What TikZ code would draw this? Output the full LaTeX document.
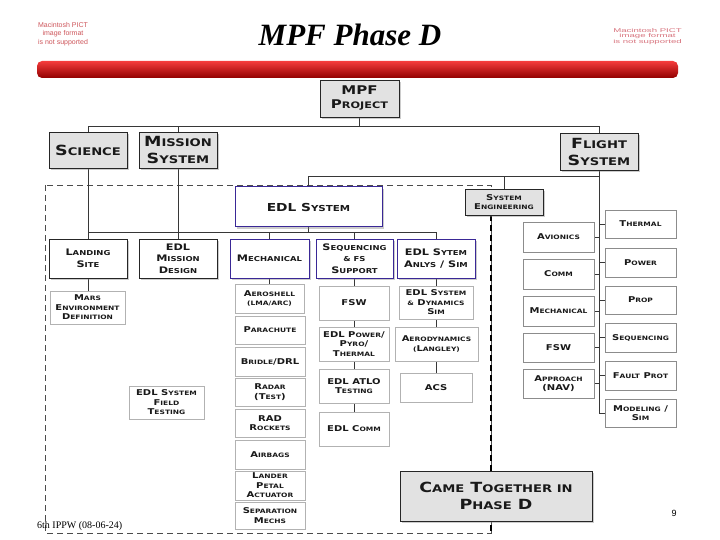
\documentclass[tikz,border=0pt]{standalone}
\usepackage{fontspec}
\setmainfont{Liberation Serif}
\newfontfamily\cpfont[FakeStretch=1.25]{DejaVu Sans}
\newfontfamily\arialfont{Liberation Sans}
\usetikzlibrary{shadows,backgrounds}
\newcommand\s[1]{\scalebox{0.75}{#1}}
\definecolor{boxgray}{RGB}{226,226,226}
\definecolor{edlpurple}{RGB}{58,40,150}
\definecolor{barred}{RGB}{228,0,0}
\definecolor{bartop}{RGB}{245,60,60}
\definecolor{bardark}{RGB}{145,0,0}
\definecolor{logored}{RGB}{205,85,90}
\definecolor{logopink}{RGB}{215,115,125}
\definecolor{linegray}{RGB}{55,55,55}
\newcommand\bx[7]{\node[#6, minimum width={(#4-#2)*1pt}, minimum height={(#5-#3)*1pt}] (#1) at ({(#2+#4)/2},{(#3+#5)/2}) {#7};}
\tikzset{
  base/.style={inner sep=1pt, outer sep=0pt, align=center, text=black!90},
  shd/.style={drop shadow={shadow xshift=2pt, shadow yshift=-2pt, opacity=0.4}},
  hdr/.style={base, fill=boxgray, draw=black!85, line width=0.9pt, shd},
  purp/.style={base, fill=white, draw=edlpurple, line width=1pt, shd},
  dark/.style={base, fill=white, draw=black!85, line width=0.8pt, shd},
  lite/.style={base, fill=white, draw=black!30, line width=0.5pt},
  rt/.style={base, fill=white, draw=black!45, line width=0.6pt},
  conn/.style={draw=linegray, line width=0.7pt},
  fA/.style={font=\cpfont\bfseries\fontsize{14}{17}\selectfont},
  fM/.style={font=\cpfont\bfseries\fontsize{12}{14}\selectfont},
  fE/.style={font=\cpfont\bfseries\fontsize{11}{13}\selectfont},
  fB/.style={font=\cpfont\bfseries\fontsize{9}{11.5}\selectfont},
  fS/.style={font=\cpfont\bfseries\fontsize{8.5}{10.5}\selectfont},
  fC/.style={font=\cpfont\bfseries\fontsize{8}{9.5}\selectfont},
}
\begin{document}
\begin{tikzpicture}[x=1pt,y=-1pt]
\useasboundingbox (0,0) rectangle (720,540);
% logos and title
\node[font=\arialfont\fontsize{7}{8.5}\selectfont, text=logored, align=center] (logoL) at (63,34) {Macintosh PICT\\image format\\is not supported};
\node[font=\arialfont\fontsize{5.5}{5.5}\selectfont, text=logopink, align=center] (logoR) at (647.5,36.5) {\scalebox{1.75}[1]{Macintosh PICT}\\\scalebox{1.75}[1]{image format}\\\scalebox{1.75}[1]{is not supported}};
\node[font=\fontsize{31}{31}\selectfont\bfseries\itshape] (title) at (350,35) {MPF Phase D};
\coordinate (barTL) at (37,61);
\coordinate (barBR) at (678,78);
\shade[top color=bartop, middle color=barred, bottom color=bardark, rounded corners=5pt] (barTL) rectangle (barBR);
% top level
\bx{mpf}{320}{80}{399}{117}{hdr,fM}{MPF\\P\s{ROJECT}}
\bx{sci}{49}{132}{127}{168}{hdr,fA}{S\s{CIENCE}}
\bx{mis}{139}{132}{217}{168}{hdr,fA}{M\s{ISSION}\\S\s{YSTEM}}
\bx{fli}{560}{133}{638}{170}{hdr,fA}{F\s{LIGHT}\\S\s{YSTEM}}
\bx{edl}{235}{187}{382}{227}{purp,fE}{EDL S\s{YSTEM}}
\bx{se}{465}{189}{543}{215}{hdr,fC}{S\s{YSTEM}\\E\s{NGINEERING}}
% second level
\bx{land}{49}{239}{127}{278}{dark,fB}{L\s{ANDING}\\S\s{ITE}}
\bx{emd}{139}{239}{217}{278}{dark,fB}{EDL\\M\s{ISSION}\\D\s{ESIGN}}
\bx{mech}{230}{239}{309}{278}{purp,fB}{M\s{ECHANICAL}}
\bx{seq}{316}{239}{393}{278}{purp,fB}{S\s{EQUENCING}\\\s{\& FS}\\S\s{UPPORT}}
\bx{anl}{397}{239}{475}{278}{purp,fB}{EDL S\s{YTEM}\\A\s{NLYS} / S\s{IM}}
% third level
\bx{mars}{50}{291}{125}{324}{lite,fC}{M\s{ARS}\\E\s{NVIRONMENT}\\D\s{EFINITION}}
\bx{field}{129}{386}{204}{419}{lite,fC}{EDL S\s{YSTEM}\\F\s{IELD}\\T\s{ESTING}}
\bx{aero}{235}{284}{304}{313}{lite,fC}{A\s{EROSHELL}\\\s{(LMA/ARC)}}
\bx{para}{235}{316}{305}{344}{lite,fC}{P\s{ARACHUTE}}
\bx{brid}{235}{347}{305}{376}{lite,fC}{B\s{RIDLE}/DRL}
\bx{radar}{235}{378}{305}{406}{lite,fC}{R\s{ADAR}\\(T\s{EST})}
\bx{rad}{235}{409}{305}{437}{lite,fC}{RAD\\R\s{OCKETS}}
\bx{airb}{235}{440}{305}{469}{lite,fC}{A\s{IRBAGS}}
\bx{lander}{235}{471}{305}{500}{lite,fC}{L\s{ANDER}\\P\s{ETAL}\\A\s{CTUATOR}}
\bx{sep}{235}{502}{305}{529}{lite,fC}{S\s{EPARATION}\\M\s{ECHS}}
\bx{fsw}{319}{286}{389}{320}{lite,fC}{FSW}
\bx{pow}{319}{327}{389}{361}{lite,fC}{EDL P\s{OWER}/\\P\s{YRO}/\\T\s{HERMAL}}
\bx{atlo}{319}{369}{389}{403}{lite,fC}{EDL ATLO\\T\s{ESTING}}
\bx{comm}{319}{412}{389}{446}{lite,fC}{EDL C\s{OMM}}
\bx{dyn}{399}{286}{473}{319}{lite,fC}{EDL S\s{YSTEM}\\\s{\&} D\s{YNAMICS}\\S\s{IM}}
\bx{aerod}{395}{327}{478}{361}{lite,fC}{A\s{ERODYNAMICS}\\\s{(}L\s{ANGLEY)}}
\bx{acs}{400}{373}{472}{402}{lite,fC}{ACS}
\bx{came}{400}{471}{592}{521}{hdr,fA}{C\s{AME} T\s{OGETHER IN}\\P\s{HASE} D}
% flight system boxes
\bx{avi}{523}{222}{594}{252}{rt,fC}{A\s{VIONICS}}
\bx{comm2}{523}{259}{594}{289}{rt,fC}{C\s{OMM}}
\bx{mech2}{523}{296}{594}{326}{rt,fC}{M\s{ECHANICAL}}
\bx{fsw2}{523}{333}{594}{362}{rt,fC}{FSW}
\bx{appr}{523}{369}{594}{398}{rt,fC}{A\s{PPROACH}\\(NAV)}
\bx{therm}{605}{210}{676}{238}{rt,fC}{T\s{HERMAL}}
\bx{power}{605}{248}{676}{277}{rt,fC}{P\s{OWER}}
\bx{prop}{605}{286}{676}{314}{rt,fC}{P\s{ROP}}
\bx{seq2}{605}{323}{676}{352}{rt,fC}{S\s{EQUENCING}}
\bx{fault}{605}{361}{676}{390}{rt,fC}{F\s{AULT} P\s{ROT}}
\bx{model}{605}{399}{676}{427}{rt,fC}{M\s{ODELING} /\\S\s{IM}}
% footer
\node[font=\fontsize{10}{10}\selectfont, anchor=base west, inner sep=0pt] (foot) at (37,528) {6th IPPW (08-06-24)};
\node[font=\arialfont\fontsize{9}{9}\selectfont, inner sep=0pt] (pnum) at (674,513) {9};
% connectors
\begin{scope}[on background layer]
  \coordinate (dTL) at (45,185);
  \coordinate (dBR) at (491,533);
  \draw[black!70, line width=0.9pt, dash pattern=on 6pt off 4pt] (dTL) rectangle (dBR);
  \draw[black, line width=1.6pt, dash pattern=on 6pt off 4pt] (se.south -| dBR) -- (dBR);
  \draw[conn] (mpf.south) -- ++(0,9);
  \draw[conn] (sci.north) -- ++(0,-6) -| (fli.north);
  \draw[conn] (mis.north) -- ++(0,-6);
  \draw[conn] (sci.south) -- (land.north);
  \draw[conn] (mis.south) -- (emd.north);
  \coordinate (hl) at (88,232);
  \draw[conn] (hl) -| (anl.north);
  \draw[conn] (edl.south) -- (edl.south |- hl);
  \draw[conn] (mech.north) -- (mech.north |- hl);
  \draw[conn] (seq.north) -- (seq.north |- hl);
  \draw[conn] (edl.north) -- ++(0,-11) -| (fli.south);
  \draw[conn] (se.north) -- ++(0,-13);
  \draw[conn] (fli.south) |- (model.west);
  \foreach \n in {therm,power,prop,seq2,fault} \draw[conn] (\n.west) -- (\n.west -| fli.south);
  \foreach \n in {avi,comm2,mech2,fsw2,appr} \draw[conn] (\n.east) -- (\n.east -| fli.south);
  \draw[conn] (land.south) -- (land.south |- mars.north);
  \draw[conn] (mech.south) -- (mech.south |- aero.north);
  \draw[conn] (seq.south) -- (seq.south |- fsw.north);
  \draw[conn] (fsw.south) -- (pow.north);
  \draw[conn] (pow.south) -- (atlo.north);
  \draw[conn] (atlo.south) -- (comm.north);
  \draw[conn] (anl.south) -- (anl.south |- dyn.north);
  \draw[conn] (dyn.south) -- (dyn.south |- aerod.north);
  \draw[conn] (aerod.south) -- (aerod.south |- acs.north);
\end{scope}
\end{tikzpicture}
\end{document}
